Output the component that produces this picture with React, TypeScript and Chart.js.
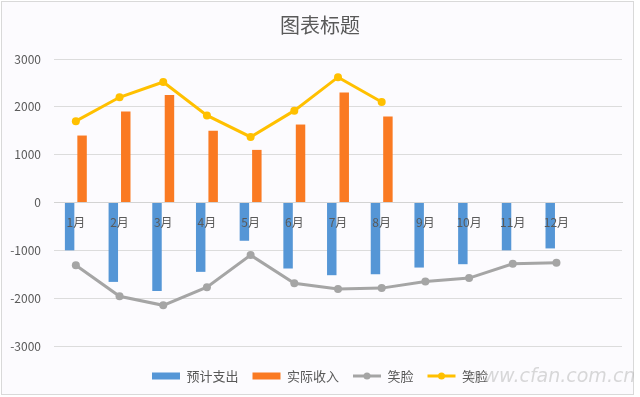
import React, { useEffect, useRef } from 'react';
import { Chart, registerables } from 'chart.js';

Chart.register(...registerables);

const months = ['1月', '2月', '3月', '4月', '5月', '6月', '7月', '8月', '9月', '10月', '11月', '12月', ''];
const expectedSpend = [-1000, -1660, -1850, -1450, -800, -1380, -1520, -1500, -1360, -1290, -1000, -960];
const actualIncome = [1400, 1900, 2250, 1500, 1100, 1630, 2300, 1800];
const smileGray = [-1310, -1960, -2150, -1770, -1100, -1690, -1810, -1790, -1650, -1580, -1280, -1260];
const smileYellow = [1700, 2200, 2520, 1820, 1370, 1920, 2620, 2100];
const yTicks = [-3000, -2000, -1000, 0, 1000, 2000, 3000];

const FONT = '"Noto Sans CJK SC", "Noto Sans", sans-serif';
const TEXT = '#595959';

export default function App() {
  const ref = useRef<HTMLCanvasElement>(null);

  useEffect(() => {
    document.body.style.margin = '0';
    const canvas = ref.current;
    if (!canvas) return;

    const legendDots = {
      id: 'legendDots',
      afterDraw(chart: any) {
        const legend = chart.legend;
        if (!legend || !legend.legendItems || !legend.legendHitBoxes) return;
        const ctx = chart.ctx;
        legend.legendItems.forEach((item: any, i: number) => {
          const ds = chart.data.datasets[item.datasetIndex];
          if (ds.type !== 'line') return;
          const hb = legend.legendHitBoxes[i];
          const cx = hb.left + 28 / 2;
          const cy = hb.top + hb.height / 2;
          ctx.save();
          ctx.fillStyle = ds.borderColor;
          ctx.beginPath();
          ctx.arc(cx, cy, 3.5, 0, Math.PI * 2);
          ctx.fill();
          ctx.restore();
        });
      },
    };

    const chart = new Chart(canvas, {
      type: 'bar',
      data: {
        labels: months,
        datasets: [
          {
            type: 'bar',
            label: '预计支出',
            data: expectedSpend,
            backgroundColor: '#5596D6',
            borderWidth: 0,
            order: 1,
            categoryPercentage: 0.57,
            barPercentage: 0.76,
          },
          {
            type: 'bar',
            label: '实际收入',
            data: actualIncome,
            backgroundColor: '#FA7A22',
            borderWidth: 0,
            order: 1,
            categoryPercentage: 0.57,
            barPercentage: 0.76,
          },
          {
            type: 'line',
            label: '笑脸',
            data: smileGray,
            borderColor: '#A5A5A5',
            backgroundColor: '#A5A5A5',
            borderWidth: 3,
            pointRadius: 4,
            pointBorderWidth: 0,
            pointBackgroundColor: '#A5A5A5',
            order: 0,
          },
          {
            type: 'line',
            label: '笑脸',
            data: smileYellow,
            borderColor: '#FFC000',
            backgroundColor: '#FFC000',
            borderWidth: 3,
            pointRadius: 4,
            pointBorderWidth: 0,
            pointBackgroundColor: '#FFC000',
            order: 0,
          },
        ] as any,
      },
      options: {
        animation: false,
        responsive: false,
        maintainAspectRatio: false,
        layout: { padding: { left: 0, right: 0, top: 0, bottom: 4.5 } },
        plugins: {
          title: {
            display: true,
            text: '图表标题',
            color: TEXT,
            font: { size: 20, family: FONT, weight: 'normal' as any },
            padding: { top: 13, bottom: 22 },
          },
          legend: {
            position: 'bottom',
            labels: {
              color: TEXT,
              font: { size: 13, family: FONT },
              usePointStyle: true,
              pointStyleWidth: 28,
              boxHeight: 7,
              padding: 14,
              sort: (a: any, b: any) => a.datasetIndex - b.datasetIndex,
              generateLabels: (c: any) => {
                const items = (Chart.defaults.plugins.legend.labels as any).generateLabels(c);
                return items.map((it: any) => {
                  const ds = c.data.datasets[it.datasetIndex];
                  it.pointStyle = ds.type === 'line' ? 'line' : 'rect';
                  if (ds.type === 'line') {
                    it.lineWidth = 3;
                    it.strokeStyle = ds.borderColor;
                  } else {
                    it.lineWidth = 0;
                  }
                  return it;
                });
              },
            },
          },
          tooltip: { enabled: false },
        },
        scales: {
          x: {
            position: { y: 0 } as any,
            grid: { display: false },
            border: { display: true, color: '#D3D3D3' },
            ticks: {
              z: 1,
              color: TEXT,
              font: { size: 12, family: FONT },
              padding: 5,
              autoSkip: false,
              maxRotation: 0,
            },
          },
          xPad: {
            type: 'category',
            position: 'bottom',
            display: true,
            grid: { display: false },
            border: { display: false },
            ticks: { display: false },
            afterFit: (s: any) => {
              s.height = 9.5;
            },
          },
          y: {
            min: -3000,
            max: 3000,
            afterBuildTicks: (s: any) => {
              s.ticks = yTicks.map((v) => ({ value: v }));
            },
            ticks: {
              color: TEXT,
              font: { size: 12, family: FONT },
              padding: 13,
              callback: (v: any) => String(v),
            },
            grid: { color: '#DCDCDC', drawTicks: false },
            border: { display: false },
            afterFit: (s: any) => {
              s.width = 54;
            },
          },
          yPad: {
            type: 'linear',
            position: 'right',
            display: true,
            grid: { display: false },
            border: { display: false },
            ticks: { display: false },
            afterFit: (s: any) => {
              s.width = 18;
            },
          },
        } as any,
      },
      plugins: [legendDots],
    });

    return () => chart.destroy();
  }, []);

  return (
    <div style={{ position: 'relative', width: 640, height: 397, background: '#ffffff', overflow: 'hidden' }}>
      <div
        style={{
          position: 'absolute',
          left: 1,
          top: 1,
          width: 633,
          height: 394,
          boxSizing: 'border-box',
          border: '1px solid #D9D9D9',
          background: '#FCFBFE',
        }}
      />
      <canvas ref={ref} width={640} height={397} style={{ position: 'absolute', left: 0, top: 0, width: 640, height: 397 }} />
      <div
        style={{
          position: 'absolute',
          left: 468,
          top: 364,
          fontFamily: '"DejaVu Sans", sans-serif',
          fontStyle: 'italic',
          fontSize: 19,
          color: 'rgba(170,170,170,0.45)',
          letterSpacing: 0,
        }}
      >
        www.cfan.com.cn
      </div>
    </div>
  );
}
